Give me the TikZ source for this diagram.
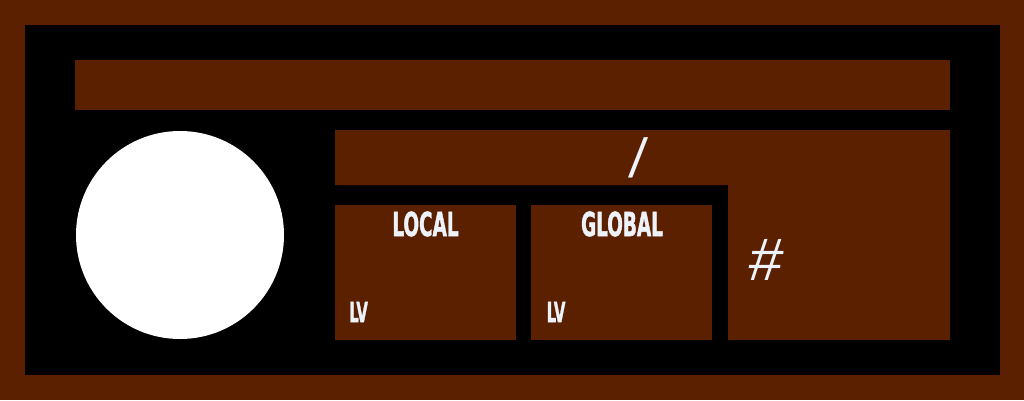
\documentclass[tikz,border=0pt]{standalone}
\usepackage{fontspec}
\usepackage{graphicx}
\newfontfamily\impactfont{DejaVu Sans Condensed Bold}[FakeBold=1.8]
\newfontfamily\thinfont{Liberation Sans}
\newfontfamily\slantfont{Liberation Sans}[FakeSlant=0.12]
\definecolor{brownbg}{RGB}{90,32,0}
\definecolor{txtc}{RGB}{238,242,250}
\tikzset{
  panel/.style={fill=brownbg, draw=none},
  bigtitle/.style={inner sep=0pt, text=txtc, font=\impactfont\fontsize{33}{33}\selectfont, anchor=base},
  smalltag/.style={inner sep=0pt, text=txtc, font=\impactfont\fontsize{27.5}{27.5}\selectfont, anchor=base west},
  glyph/.style={inner sep=0pt, text=txtc, font=\thinfont}
}
\begin{document}
\begin{tikzpicture}[x=1pt,y=-1pt]
\useasboundingbox (0,0) rectangle (1024,400);
\fill[brownbg] (0,0) rectangle (1024,400);
\fill[black] (25,25) rectangle (1000,375);
\fill[panel] (75,60) rectangle (950,110);
\fill[white] (180,235) circle (104);
\fill[panel] (335,130) -- (950,130) -- (950,340) -- (728,340) -- (728,185) -- (335,185) -- cycle;
\node[panel, minimum width=181pt, minimum height=135pt, inner sep=0pt] (local) at (425.5,272.5) {};
\node[panel, minimum width=181pt, minimum height=135pt, inner sep=0pt] (global) at (621.5,272.5) {};
\node[bigtitle] (localt) at (425.5,236) {\scalebox{0.62}[1]{LOCAL}};
\node[bigtitle] (globalt) at (622,236) {\scalebox{0.62}[1]{GLOBAL}};
\node[smalltag] (lv1) at (349,322) {\scalebox{0.6}[1]{LV}};
\node[smalltag] (lv2) at (546.5,322) {\scalebox{0.6}[1]{LV}};
\node[glyph, font=\slantfont\fontsize{55}{55}\selectfont] (slash) at (636,157.5) {/};
\node[glyph, font=\slantfont\fontsize{60}{60}\selectfont] (hash) at (764,260) {\#};
\end{tikzpicture}
\end{document}
